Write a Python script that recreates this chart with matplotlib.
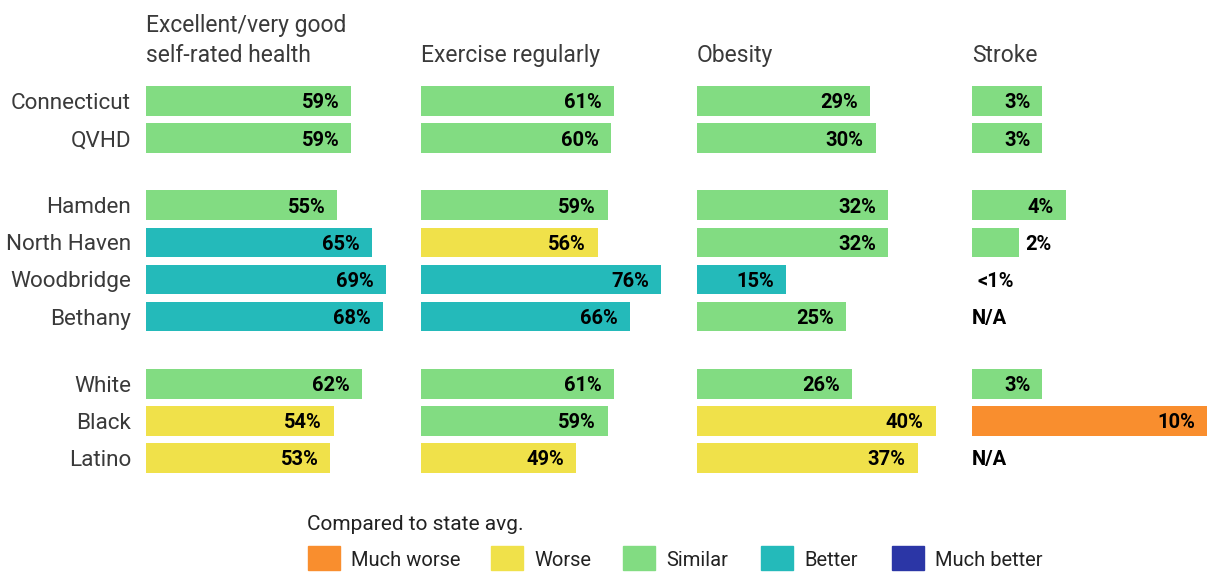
import matplotlib
matplotlib.use("Agg")
import matplotlib.pyplot as plt
from matplotlib.patches import Rectangle

plt.rcParams["font.family"] = ["Roboto", "DejaVu Sans"]

# ---- data ----
groups = [
    ["Connecticut", "QVHD"],
    ["Hamden", "North Haven", "Woodbridge", "Bethany"],
    ["White", "Black", "Latino"],
]
titles = ["Excellent/very good\nself-rated health", "Exercise regularly", "Obesity", "Stroke"]

health = [59, 59, 55, 65, 69, 68, 62, 54, 53]
exercise = [61, 60, 59, 56, 76, 66, 61, 59, 49]
obesity = [29, 30, 32, 32, 15, 25, 26, 40, 37]
stroke = [3, 3, 4, 2, 0, 0, 3, 10, 0]
stroke_labels = ["3%", "3%", "4%", "2%", "<1%", "N/A", "3%", "10%", "N/A"]

health_cmp = ["similar", "similar", "similar", "better", "better", "better", "similar", "worse", "worse"]
exercise_cmp = ["similar", "similar", "similar", "worse", "better", "better", "similar", "similar", "worse"]
obesity_cmp = ["similar", "similar", "similar", "similar", "better", "similar", "similar", "worse", "worse"]
stroke_cmp = ["similar", "similar", "similar", "similar", None, None, "similar", "much worse", None]

legend_keys = ["much worse", "worse", "similar", "better", "much better"]
legend_labels = ["Much worse", "Worse", "Similar", "Better", "Much better"]
colors = {
    "much worse": "#F98E2E",
    "worse": "#F0E14A",
    "similar": "#82DC82",
    "better": "#24BABA",
    "much better": "#2B36A6",
}

W, H = 1207, 575
fig = plt.figure(figsize=(W / 100, H / 100), dpi=100)


def fx(px):
    return px / W


def fy(py):
    return 1 - py / H


# row positions from the groups (gap between groups)
names, ypos = [], []
y = 0.0
for g in groups:
    for n in g:
        names.append(n)
        ypos.append(y)
        y += 1
    y += 0.81
ymax = ypos[-1]

row_px = 37.1
top_px = 101 - 0.5 * row_px
ax_h = (ymax + 1) * row_px

panels = [
    (health, [f"{v}%" for v in health], health_cmp),
    (exercise, [f"{v}%" for v in exercise], exercise_cmp),
    (obesity, [f"{v}%" for v in obesity], obesity_cmp),
    (stroke, stroke_labels, stroke_cmp),
]
widths = [240, 240, 239, 235]
text_col = "#3a3a3a"
val_kw = dict(va="center_baseline", fontsize=14.5, fontweight="bold", color="black")

for i, (vals, labs, cmp) in enumerate(panels):
    x0 = 146 + 275.3 * i
    ax = fig.add_axes([fx(x0), fy(top_px + ax_h), fx(widths[i]), ax_h / H])
    ax.set_xlim(0, max(vals))
    ax.set_ylim(ymax + 0.5, -0.5)
    ax.axis("off")
    px_per_unit = widths[i] / max(vals)
    for yy, v, lab, c in zip(ypos, vals, labs, cmp):
        if c is not None and v > 0:
            ax.barh(yy, v, height=0.8, color=colors[c], edgecolor="none")
        bar_px = v * px_per_unit
        if c is None:
            off = 6 if lab.startswith("<") else 0
            ax.text(off / px_per_unit, yy, lab, ha="left", **val_kw)
        elif bar_px < 60:
            ax.text(v + 6 / px_per_unit, yy, lab, ha="left", **val_kw)
        else:
            ax.text(v - 12 / px_per_unit, yy, lab, ha="right", **val_kw)
    # title lines, last line on a common baseline
    lines = titles[i].split("\n")
    for k, line in enumerate(reversed(lines)):
        fig.text(fx(x0), fy(62 - 30 * k), line, ha="left", va="baseline",
                 fontsize=16.5, color=text_col)

# row labels
for n, yy in zip(names, ypos):
    fig.text(fx(131), fy(101 + yy * row_px), n, ha="right", va="center_baseline",
             fontsize=16.2, color=text_col)

# legend
fig.text(fx(307), fy(523), "Compared to state avg.", ha="left", va="center_baseline",
         fontsize=15, color="#222222")
patch_x = [308, 491, 623, 761, 892]
for px, k, lab in zip(patch_x, legend_keys, legend_labels):
    fig.add_artist(Rectangle((fx(px), fy(570)), fx(32), 24 / H,
                             transform=fig.transFigure, color=colors[k]))
    fig.text(fx(px + 43), fy(559), lab, ha="left", va="center_baseline",
             fontsize=14.5, color="#222222")

fig.savefig("out.png", dpi=100)
